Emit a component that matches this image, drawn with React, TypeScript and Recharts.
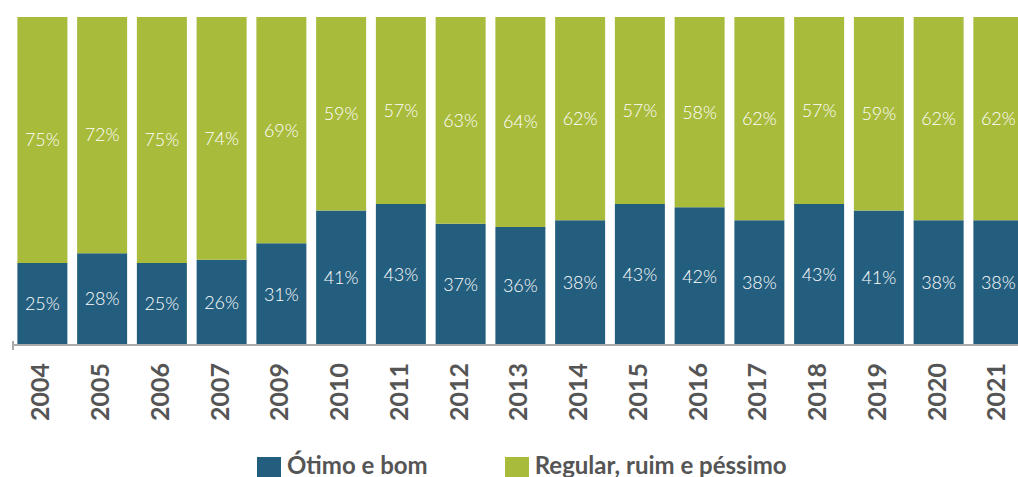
import React from 'react';
import { BarChart, Bar, XAxis, YAxis, LabelList, Legend } from 'recharts';

const years = ['2004','2005','2006','2007','2009','2010','2011','2012','2013','2014','2015','2016','2017','2018','2019','2020','2021'];
const otimoBom = [25,28,25,26,31,41,43,37,36,38,43,42,38,43,41,38,38];
const regularRuim = [75,72,75,74,69,59,57,63,64,62,57,58,62,57,59,62,62];

const data = years.map((y, i) => ({ year: y, ob: otimoBom[i], rr: regularRuim[i] }));

const BLUE = '#245e7e';
const GREEN = '#a8bb3b';
const FONT = 'Lato, "Open Sans", sans-serif';

const Tick = (props: any) => {
  const { x, y, payload } = props;
  const bx = x + 7;
  const by = y + 10;
  return (
    <text x={bx} y={by} transform={`rotate(-90, ${bx}, ${by})`} textAnchor="end"
      fill="#555" fontFamily={FONT} fontWeight={700} fontSize={25}>
      {payload.value}
    </text>
  );
};

const LegendContent = () => (
  <div style={{ display: 'flex', alignItems: 'flex-start', fontFamily: FONT, fontWeight: 700, fontSize: 24, color: '#555', lineHeight: '24px' }}>
    <div style={{ display: 'flex', alignItems: 'flex-start' }}>
      <span style={{ display: 'inline-block', width: 24, height: 24, background: BLUE, marginRight: 6, marginTop: 4 }} />
      <span>Ótimo e bom</span>
    </div>
    <div style={{ display: 'flex', alignItems: 'flex-start', marginLeft: 77 }}>
      <span style={{ display: 'inline-block', width: 24, height: 24, background: GREEN, marginRight: 6, marginTop: 4 }} />
      <span>Regular, ruim e péssimo</span>
    </div>
  </div>
);

export default function App() {
  return (
    <div style={{ position: 'absolute', left: 0, top: 0, width: 1018, height: 477, overflow: 'hidden', background: '#fff' }}>
      <BarChart width={1040} height={477} data={data}
        margin={{ top: 17, left: 12.5, right: 11.75, bottom: 0 }} barCategoryGap={4.875}>
        <YAxis hide domain={[0, 100]} />
        <XAxis dataKey="year" height={132} interval={0} tick={<Tick />} tickLine={false}
          axisLine={{ stroke: '#aaa', strokeWidth: 2 }} />
        <Legend layout="vertical" align="center" verticalAlign="middle" content={<LegendContent />}
          wrapperStyle={{ position: 'absolute', top: 453, left: 257, width: 'auto' }} />
        <Bar dataKey="ob" stackId="a" fill={BLUE} isAnimationActive={false}>
          <LabelList dataKey="ob" position="center" fill="#fff" fontFamily={FONT} fontWeight={300} fontSize={18}
            formatter={(v: any) => `${v}%`} />
        </Bar>
        <Bar dataKey="rr" stackId="a" fill={GREEN} isAnimationActive={false}>
          <LabelList dataKey="rr" position="center" fill="#fff" fontFamily={FONT} fontWeight={300} fontSize={18}
            formatter={(v: any) => `${v}%`} />
        </Bar>
      </BarChart>
      <div style={{ position: 'absolute', left: 12, top: 341, width: 2, height: 9, background: '#aaa' }} />
    </div>
  );
}
